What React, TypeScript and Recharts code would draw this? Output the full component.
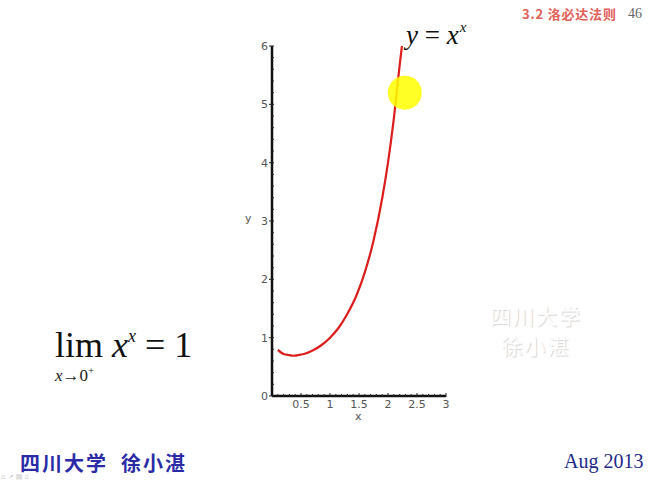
import { LineChart, Line, XAxis, YAxis, ReferenceDot } from 'recharts';

const xs = [0.1, 0.15, 0.2, 0.3, 0.37, 0.45, 0.55, 0.7, 0.85, 1.0, 1.15, 1.3, 1.45, 1.6, 1.75, 1.9, 2.0, 2.1, 2.2, 2.24];
const ys = [0.79, 0.75, 0.72, 0.70, 0.69, 0.70, 0.72, 0.78, 0.87, 1.0, 1.17, 1.41, 1.71, 2.12, 2.66, 3.39, 4.0, 4.75, 5.66, 6.0];

const xMajor = [0.5, 1, 1.5, 2, 2.5, 3];
const yMajor = [0, 1, 2, 3, 4, 5, 6];
const xMinor = [0.1, 0.2, 0.3, 0.4, 0.6, 0.7, 0.8, 0.9, 1.1, 1.2, 1.3, 1.4, 1.6, 1.7, 1.8, 1.9, 2.1, 2.2, 2.3, 2.4, 2.6, 2.7, 2.8, 2.9];
const yMinor = [0.2, 0.4, 0.6, 0.8, 1.2, 1.4, 1.6, 1.8, 2.2, 2.4, 2.6, 2.8, 3.2, 3.4, 3.6, 3.8, 4.2, 4.4, 4.6, 4.8, 5.2, 5.4, 5.6, 5.8];

const data = xs.map((x, i) => ({ x, y: ys[i] }));

const tickColor = '#555';

const XTick = (props: any) => {
  const { x, y, payload } = props;
  const major = xMajor.includes(payload.value);
  return (
    <g>
      <line x1={x} x2={x} y1={y - (major ? 3 : 2)} y2={y + 1} stroke="#222" strokeWidth={1} />
      {major && (
        <text x={x} y={y + 12} textAnchor="middle" fontSize={11} fill={tickColor} fontFamily="DejaVu Sans">
          {payload.value}
        </text>
      )}
    </g>
  );
};

const YTick = (props: any) => {
  const { x, y, payload } = props;
  const major = yMajor.includes(payload.value);
  return (
    <g>
      <line x1={x - (major ? 3 : 1)} x2={x + 2} y1={y} y2={y} stroke="#222" strokeWidth={1} />
      {major && (
        <text x={x - 4} y={y + 4} textAnchor="end" fontSize={11} fill={tickColor} fontFamily="DejaVu Sans">
          {payload.value}
        </text>
      )}
    </g>
  );
};

export default function App() {
  return (
    <div style={{ position: 'absolute', left: 0, top: 0, width: 663, height: 480, background: '#fff', overflow: 'hidden', fontFamily: 'Liberation Serif' }}>
      <div style={{ position: 'absolute', left: 522, top: 5, fontSize: 13, color: '#e0605a', fontFamily: 'Noto Sans CJK SC', fontWeight: 700, letterSpacing: 0.8, lineHeight: '18px' }}>
        3.2 洛必达法则
      </div>
      <div style={{ position: 'absolute', left: 628, top: 6, fontSize: 14, color: '#666', lineHeight: '16px' }}>46</div>

      <LineChart width={663} height={480} data={data} margin={{ top: 46, right: 217, bottom: 64, left: 252 }} style={{ position: 'absolute', left: 0, top: 0 }}>
        <XAxis
          dataKey="x"
          type="number"
          domain={[0, 3]}
          ticks={[...xMinor, ...xMajor].sort((a, b) => a - b)}
          tick={<XTick />}
          tickSize={0}
          tickMargin={0}
          tickLine={false}
          interval={0}
          height={20}
          axisLine={{ stroke: '#111', strokeWidth: 2.5 }}
          allowDataOverflow
        />
        <YAxis
          dataKey="y"
          type="number"
          domain={[0, 6]}
          ticks={[...yMinor, ...yMajor].sort((a, b) => a - b)}
          tick={<YTick />}
          tickSize={0}
          tickMargin={0}
          tickLine={false}
          interval={0}
          width={20}
          axisLine={{ stroke: '#111', strokeWidth: 2.5 }}
          allowDataOverflow
        />
        <Line type="monotone" dataKey="y" stroke="#dd1c1c" strokeWidth={2.2} dot={false} isAnimationActive={false} />
        <ReferenceDot x={2.29} y={5.2} r={17} fill="#ffff00" fillOpacity={0.85} stroke="none" ifOverflow="visible" />
      </LineChart>

      <div style={{ position: 'absolute', left: 245, top: 212, fontSize: 11, color: tickColor, fontFamily: 'DejaVu Sans' }}>y</div>
      <div style={{ position: 'absolute', left: 355, top: 412, fontSize: 11, color: tickColor, fontFamily: 'DejaVu Sans', lineHeight: '10px' }}>x</div>

      <div style={{ position: 'absolute', left: 406, top: 20, fontSize: 27, color: '#111', fontStyle: 'italic', whiteSpace: 'nowrap' }}>
        y <span style={{ fontStyle: 'normal' }}>=</span> x
        <span style={{ fontSize: 15, position: 'relative', top: -12, marginLeft: 1 }}>x</span>
      </div>

      <div style={{ position: 'absolute', left: 55, top: 324, fontSize: 36, color: '#111', whiteSpace: 'nowrap' }}>
        lim <span style={{ fontStyle: 'italic' }}>x</span>
        <span style={{ fontSize: 18, fontStyle: 'italic', position: 'relative', top: -15 }}>x</span> = 1
      </div>
      <div style={{ position: 'absolute', left: 55, top: 366, fontSize: 17, color: '#222', whiteSpace: 'nowrap' }}>
        <span style={{ fontStyle: 'italic' }}>x</span>→0
        <span style={{ fontSize: 11, position: 'relative', top: -7 }}>+</span>
      </div>

      <div style={{ position: 'absolute', left: 490, top: 300, fontSize: 21, color: '#fff', textShadow: '1px 1px 1px #d4d4d4', fontFamily: 'Noto Sans CJK SC', letterSpacing: 2, lineHeight: '30px', textAlign: 'center' }}>
        四川大学<br />徐小湛
      </div>

      <div style={{ position: 'absolute', left: 20, top: 453, fontSize: 20, color: '#2b2ba8', fontFamily: 'Noto Sans CJK SC', fontWeight: 700, whiteSpace: 'pre', letterSpacing: 2, lineHeight: '20px' }}>
        四川大学  徐小湛
      </div>
      <div style={{ position: 'absolute', left: 564, top: 450, fontSize: 20, color: '#1e2a8a' }}>Aug 2013</div>
      <div style={{ position: 'absolute', left: 1, top: 475, fontSize: 7, color: '#ccc', fontFamily: 'DejaVu Sans', lineHeight: '5px' }}>⌂ ↗ ▤ ⌂</div>
    </div>
  );
}
